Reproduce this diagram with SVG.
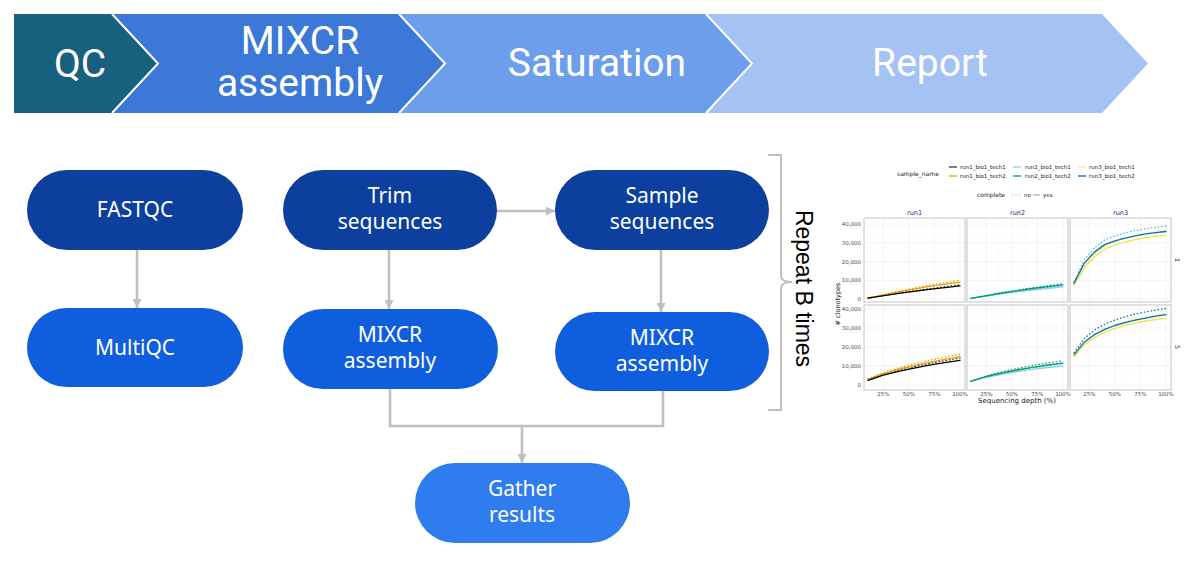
<svg xmlns="http://www.w3.org/2000/svg" width="1200" height="585" viewBox="0 0 1200 585">
<style>
.bt{font-family:Roboto,"Liberation Sans",sans-serif;fill:#fff;font-size:39px;text-anchor:middle}
.nt{font-family:"Noto Sans","Open Sans","Liberation Sans",sans-serif;fill:#fff;font-size:21px;text-anchor:middle}
.dark{fill:#0C3F9E}
.bright{fill:#0F5EDD}
.light{fill:#2F7CEE}
.conn{fill:none;stroke:#BFBFBF;stroke-width:2.5}
.grid{stroke:#EBEBEB;stroke-width:0.6}
.gridm{stroke:#F4F4F4;stroke-width:0.4}
.pb{fill:none;stroke:#B3B3B3;stroke-width:0.8}
.ax{font-family:"DejaVu Sans","Liberation Sans",sans-serif;font-size:5.5px;fill:#4D4D4D}
.lg{font-family:"DejaVu Sans","Liberation Sans",sans-serif;font-size:6px;fill:#1A1A1A}
.st{font-family:"DejaVu Sans","Liberation Sans",sans-serif;font-size:6.5px;fill:#1A1A8C;text-anchor:middle}
.c{fill:none;stroke-width:1.3;stroke-linejoin:round;stroke-linecap:round}
.d{fill:none;stroke-width:1.3;stroke-dasharray:0.5 3;stroke-linecap:round}
</style>
<defs>
<marker id="ah" viewBox="0 0 10 10" refX="10" refY="5" markerWidth="3.6" markerHeight="3.6" orient="auto" markerUnits="strokeWidth">
<path d="M0,0 L10,5 L0,10 z" fill="#BFBFBF"/>
</marker>
<g id="gridTop">
<line class="gridm" x1="870.6" y1="218" x2="870.6" y2="302"/>
<line class="gridm" x1="896.1" y1="218" x2="896.1" y2="302"/>
<line class="gridm" x1="921.7" y1="218" x2="921.7" y2="302"/>
<line class="gridm" x1="947.2" y1="218" x2="947.2" y2="302"/>
<line class="gridm" x1="864" y1="289.6" x2="965" y2="289.6"/>
<line class="gridm" x1="864" y1="270.9" x2="965" y2="270.9"/>
<line class="gridm" x1="864" y1="252.1" x2="965" y2="252.1"/>
<line class="gridm" x1="864" y1="233.4" x2="965" y2="233.4"/>
<line class="grid" x1="883.3" y1="218" x2="883.3" y2="302"/>
<line class="grid" x1="908.9" y1="218" x2="908.9" y2="302"/>
<line class="grid" x1="934.4" y1="218" x2="934.4" y2="302"/>
<line class="grid" x1="960" y1="218" x2="960" y2="302"/>
<line class="grid" x1="864" y1="299" x2="965" y2="299"/>
<line class="grid" x1="864" y1="280.25" x2="965" y2="280.25"/>
<line class="grid" x1="864" y1="261.5" x2="965" y2="261.5"/>
<line class="grid" x1="864" y1="242.75" x2="965" y2="242.75"/>
<line class="grid" x1="864" y1="224" x2="965" y2="224"/>
<rect class="pb" x="864" y="218" width="101" height="84"/>
</g>
<g id="gridBot">
<line class="gridm" x1="870.6" y1="305" x2="870.6" y2="390"/>
<line class="gridm" x1="896.1" y1="305" x2="896.1" y2="390"/>
<line class="gridm" x1="921.7" y1="305" x2="921.7" y2="390"/>
<line class="gridm" x1="947.2" y1="305" x2="947.2" y2="390"/>
<line class="gridm" x1="864" y1="375.5" x2="965" y2="375.5"/>
<line class="gridm" x1="864" y1="356.5" x2="965" y2="356.5"/>
<line class="gridm" x1="864" y1="337.5" x2="965" y2="337.5"/>
<line class="gridm" x1="864" y1="318.5" x2="965" y2="318.5"/>
<line class="grid" x1="883.3" y1="305" x2="883.3" y2="390"/>
<line class="grid" x1="908.9" y1="305" x2="908.9" y2="390"/>
<line class="grid" x1="934.4" y1="305" x2="934.4" y2="390"/>
<line class="grid" x1="960" y1="305" x2="960" y2="390"/>
<line class="grid" x1="864" y1="385" x2="965" y2="385"/>
<line class="grid" x1="864" y1="366" x2="965" y2="366"/>
<line class="grid" x1="864" y1="347" x2="965" y2="347"/>
<line class="grid" x1="864" y1="328" x2="965" y2="328"/>
<line class="grid" x1="864" y1="309" x2="965" y2="309"/>
<rect class="pb" x="864" y="305" width="101" height="85"/>
</g>
<g id="xt" class="ax" text-anchor="middle">
<text x="883.3" y="395.5">25%</text>
<text x="908.9" y="395.5">50%</text>
<text x="934.4" y="395.5">75%</text>
<text x="960" y="395.5">100%</text>
</g>
</defs>
<rect width="1200" height="585" fill="#fff"/>

<g id="banner">
<g id="stage-qc">
<polygon points="14,14 112,14 158,63.5 112,113 14,113" fill="#17607E"/>
<text class="bt" x="80" y="77">QC</text>
</g>
<g id="stage-mixcr">
<polygon points="112,14 399,14 445,63.5 399,113 112,113 158,63.5" fill="#3C78D8"/>
<text class="bt" x="300" y="54">MIXCR</text>
<text class="bt" x="300" y="96">assembly</text>
</g>
<g id="stage-saturation">
<polygon points="399,14 706,14 752,63.5 706,113 399,113 445,63.5" fill="#6D9EEB"/>
<text class="bt" x="597" y="76">Saturation</text>
</g>
<g id="stage-report">
<polygon points="706,14 1102,14 1148,63.5 1102,113 706,113 752,63.5" fill="#A4C2F4"/>
<text class="bt" x="930" y="76">Report</text>
</g>
<g fill="none" stroke="#fff" stroke-width="2">
<polyline points="112,14 158,63.5 112,113"/>
<polyline points="399,14 445,63.5 399,113"/>
<polyline points="706,14 752,63.5 706,113"/>
</g>
</g>

<g id="connectors">
<line class="conn" x1="137" y1="250" x2="137" y2="308" marker-end="url(#ah)"/>
<line class="conn" x1="389" y1="250" x2="389" y2="309" marker-end="url(#ah)"/>
<line class="conn" x1="497" y1="211" x2="555" y2="211" marker-end="url(#ah)"/>
<line class="conn" x1="661" y1="250" x2="661" y2="312" marker-end="url(#ah)"/>
<polyline class="conn" points="390,389 390,426 663,426 663,391"/>
<line class="conn" x1="522" y1="426" x2="522" y2="463" marker-end="url(#ah)"/>
</g>

<g id="node-fastqc">
<rect class="dark" x="27" y="170" width="216" height="80" rx="40"/>
<text class="nt" x="135" y="217">FASTQC</text>
</g>
<g id="node-multiqc">
<rect class="bright" x="27" y="308" width="216" height="79" rx="39.5"/>
<text class="nt" x="135" y="355">MultiQC</text>
</g>
<g id="node-trim">
<rect class="dark" x="283" y="170" width="214" height="80" rx="40"/>
<text class="nt" x="390" y="203">Trim</text>
<text class="nt" x="390" y="229">sequences</text>
</g>
<g id="node-sample">
<rect class="dark" x="555" y="170" width="214" height="80" rx="40"/>
<text class="nt" x="662" y="203">Sample</text>
<text class="nt" x="662" y="229">sequences</text>
</g>
<g id="node-mixcr1">
<rect class="bright" x="283" y="309" width="215" height="80" rx="40"/>
<text class="nt" x="390" y="342">MIXCR</text>
<text class="nt" x="390" y="368">assembly</text>
</g>
<g id="node-mixcr2">
<rect class="bright" x="555" y="312" width="214" height="79" rx="39.5"/>
<text class="nt" x="662" y="344.5">MIXCR</text>
<text class="nt" x="662" y="370.5">assembly</text>
</g>
<g id="node-gather">
<rect class="light" x="415" y="463" width="215" height="80" rx="40"/>
<text class="nt" x="522" y="496">Gather</text>
<text class="nt" x="522" y="522">results</text>
</g>

<g id="repeat">
<path d="M768,155 L781,155 L781,276 Q781,282 792,282 Q781,282 781,288 L781,410 L768,410" fill="none" stroke="#BFBFBF" stroke-width="2"/>
<text transform="translate(796,288.5) rotate(90)" text-anchor="middle" font-family="'Liberation Sans',Arial,sans-serif" font-size="23" fill="#000">Repeat B times</text>
</g>

<g id="chart">
<g id="legend" class="lg">
<text x="897" y="176">sample_name</text>
<line x1="949" y1="167" x2="957" y2="167" stroke="#333" stroke-width="1.3"/>
<text x="960" y="169" font-size="5.5">run1_bio1_tech1</text>
<line x1="949" y1="176" x2="957" y2="176" stroke="#E69F00" stroke-width="1.3"/>
<text x="960" y="178" font-size="5.5">run1_bio1_tech2</text>
<line x1="1013" y1="167" x2="1021" y2="167" stroke="#9ACFEF" stroke-width="1.3"/>
<text x="1025" y="169" font-size="5.5">run2_bio1_tech1</text>
<line x1="1013" y1="176" x2="1021" y2="176" stroke="#009E73" stroke-width="1.3"/>
<text x="1025" y="178" font-size="5.5">run2_bio1_tech2</text>
<line x1="1078" y1="167" x2="1086" y2="167" stroke="#F5EE8A" stroke-width="1.3"/>
<text x="1089" y="169" font-size="5.5">run3_bio1_tech1</text>
<line x1="1078" y1="176" x2="1086" y2="176" stroke="#0072B2" stroke-width="1.3"/>
<text x="1089" y="178" font-size="5.5">run3_bio1_tech2</text>
<text x="977" y="197">complete</text>
<line x1="1012" y1="195" x2="1020" y2="195" stroke="#999" stroke-width="1" stroke-dasharray="1 2.5"/>
<text x="1024" y="197" font-size="5.5">no</text>
<line x1="1033" y1="195" x2="1040" y2="195" stroke="#999" stroke-width="1"/>
<text x="1043" y="197" font-size="5.5">yes</text>
</g>

<g id="strips" class="st">
<text x="914.5" y="215">run1</text>
<text x="1017.5" y="215">run2</text>
<text x="1120.5" y="215">run3</text>
<text transform="translate(1175,260) rotate(90)">1</text>
<text transform="translate(1175,347) rotate(90)">5</text>
</g>

<g id="panels">
<use href="#gridTop"/>
<use href="#gridTop" x="103"/>
<use href="#gridTop" x="206"/>
<use href="#gridBot"/>
<use href="#gridBot" x="103"/>
<use href="#gridBot" x="206"/>
</g>

<g id="yaxis" class="ax" text-anchor="end">
<text x="861" y="226">40,000</text>
<text x="861" y="245">30,000</text>
<text x="861" y="263.5">20,000</text>
<text x="861" y="282.3">10,000</text>
<text x="861" y="301">0</text>
<text x="861" y="311">40,000</text>
<text x="861" y="330">30,000</text>
<text x="861" y="349">20,000</text>
<text x="861" y="368">10,000</text>
<text x="861" y="387">0</text>
</g>
<use href="#xt"/>
<use href="#xt" x="103"/>
<use href="#xt" x="206"/>
<text transform="translate(840,304) rotate(-90)" text-anchor="middle" font-family="'DejaVu Sans','Liberation Sans',sans-serif" font-size="6.5" fill="#1A1A1A"># clonotypes</text>
<text x="1017" y="403" text-anchor="middle" font-family="'DejaVu Sans','Liberation Sans',sans-serif" font-size="7" fill="#1A1A1A">Sequencing depth (%)</text>

<g id="curves">
<polyline class="d" stroke="#333" points="868,298.1 898.7,293 929.3,288.7 960,284.8"/>
<polyline class="d" stroke="#E69F00" points="868,298.1 898.7,291.1 929.3,285.1 960,280.3"/>
<polyline class="c" stroke="#E69F00" points="868,298.1 898.7,291.9 929.3,286.3 960,282.1"/>
<polyline class="c" stroke="#000" points="868,298.1 898.7,293.4 929.3,289.3 960,285.9"/>

<polyline class="d" stroke="#56B4E9" points="971,298.4 1001.7,293.4 1032.3,289.3 1063,285.9"/>
<polyline class="d" stroke="#009E73" points="971,298.4 1001.7,292.6 1032.3,287.8 1063,283.6"/>
<polyline class="c" stroke="#8FCBEF" points="971,298.4 1001.7,293.8 1032.3,290 1063,286.8"/>
<polyline class="c" stroke="#009E73" points="971,298.4 1001.7,293 1032.3,288.5 1063,284.9"/>

<polyline class="d" stroke="#56B4E9" points="1074,282.1 1084.2,260 1094.4,247.8 1104.7,239.9 1114.9,236 1125.1,233 1135.3,230.6 1145.6,228.7 1155.8,227.2 1166,225.9"/>
<polyline class="d" stroke="#F0E442" points="1074,284.9 1084.2,266.2 1094.4,254 1104.7,246.1 1114.9,241.4 1125.1,238.3 1135.3,235.6 1145.6,233.8 1155.8,232.1 1166,230.6"/>
<polyline class="c" stroke="#F0E442" points="1074,285.9 1084.2,268.1 1094.4,256.8 1104.7,249.3 1114.9,245 1125.1,242 1135.3,239.6 1145.6,237.7 1155.8,236.4 1166,235.3"/>
<polyline class="c" stroke="#0072B2" points="1074,283.1 1084.2,263.4 1094.4,252.1 1104.7,244.6 1114.9,240.9 1125.1,238.1 1135.3,235.8 1145.6,233.9 1155.8,232.6 1166,231.5"/>

<polyline class="d" stroke="#333" points="868,379.9 883.3,374.4 898.7,370.2 914,366.6 929.3,363.5 944.7,360.7 960,358"/>
<polyline class="d" stroke="#E69F00" points="868,378.9 883.3,372.7 898.7,367.9 914,363.9 929.3,360.3 944.7,357.1 960,354.2"/>
<polyline class="c" stroke="#E69F00" points="868,379.3 883.3,373.6 898.7,369.2 914,365.6 929.3,362.4 944.7,359.4 960,356.7"/>
<polyline class="c" stroke="#000" points="868,380.3 883.3,375.1 898.7,371.3 914,368.1 929.3,365.2 944.7,362.6 960,360.3"/>

<polyline class="d" stroke="#56B4E9" points="971,381.2 986.3,376.8 1001.7,373.5 1017,370.5 1032.3,367.9 1047.7,365.6 1063,363.6"/>
<polyline class="d" stroke="#009E73" points="971,381 986.3,375.9 1001.7,371.9 1017,368.5 1032.3,365.4 1047.7,362.8 1063,360.7"/>
<polyline class="c" stroke="#8FCBEF" points="971,381.4 986.3,377.4 1001.7,374.4 1017,371.7 1032.3,369.4 1047.7,367.5 1063,365.8"/>
<polyline class="c" stroke="#009E73" points="971,381.2 986.3,376.5 1001.7,373 1017,370 1032.3,367.3 1047.7,365 1063,363.2"/>

<polyline class="d" stroke="#0072B2" points="1074,352.7 1084.2,338.5 1094.4,329.9 1104.7,324.2 1114.9,320 1125.1,316.8 1135.3,314.1 1145.6,311.9 1155.8,310.1 1166,308.4"/>
<polyline class="d" stroke="#F0E442" points="1074,355.6 1084.2,342.6 1094.4,334.7 1104.7,329 1114.9,324.8 1125.1,321.5 1135.3,318.9 1145.6,316.8 1155.8,314.9 1166,313.2"/>
<polyline class="c" stroke="#F0E442" points="1074,356.9 1084.2,345.1 1094.4,337.5 1104.7,332.2 1114.9,328.4 1125.1,325.5 1135.3,323.1 1145.6,321 1155.8,319.5 1166,318.1"/>
<polyline class="c" stroke="#0072B2" points="1074,354.6 1084.2,342.3 1094.4,334.7 1104.7,329.3 1114.9,325.5 1125.1,322.7 1135.3,320.2 1145.6,318.1 1155.8,316.2 1166,314.7"/>
</g>
</g>
</svg>
